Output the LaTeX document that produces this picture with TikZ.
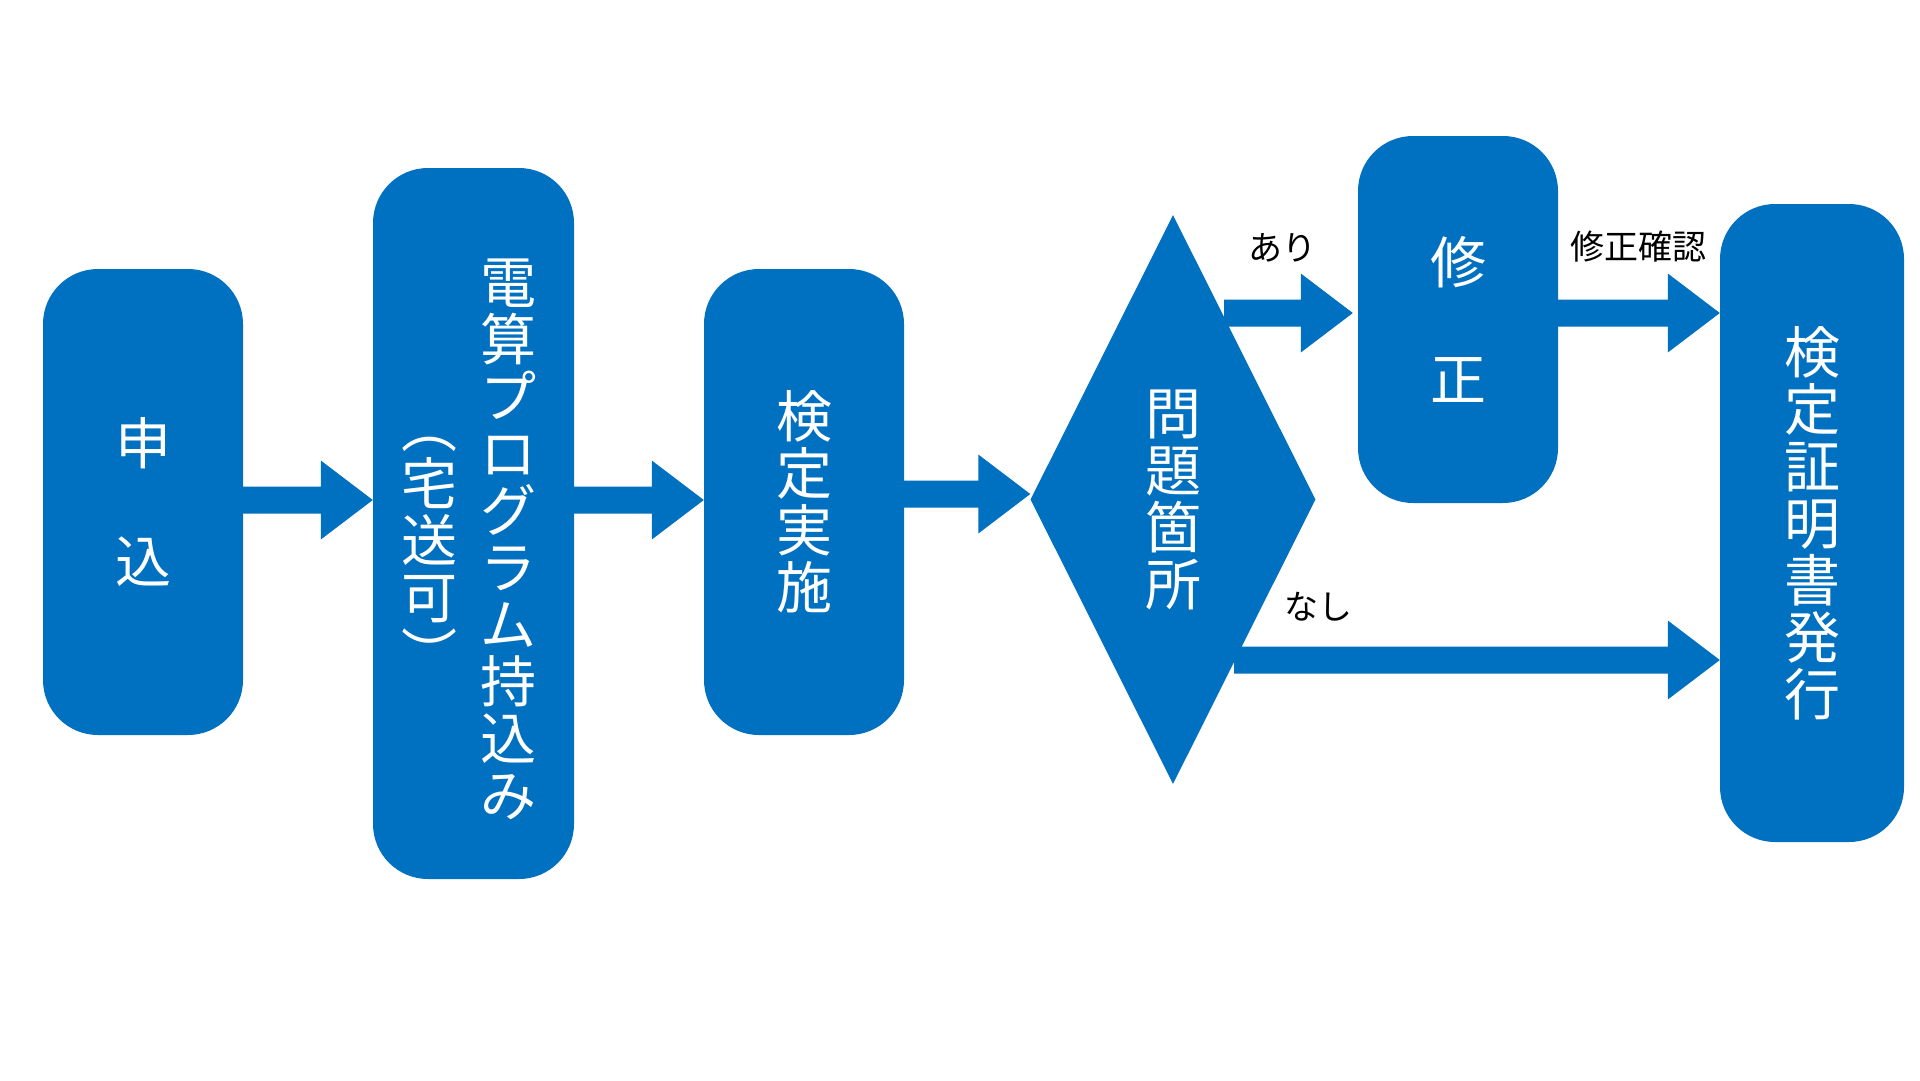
\documentclass[tikz,border=0pt]{standalone}
\usepackage{fontspec}
\newfontfamily\jp{Noto Sans CJK JP}
\usetikzlibrary{shapes.geometric,calc}
\definecolor{blue0}{RGB}{0,112,192}
\begin{document}
\begin{tikzpicture}[x=1pt,y=-1pt,
  box/.style={fill=blue0, rounded corners=55pt, inner sep=0pt, text=white, align=center},
  col/.style={font=\jp\fontsize{56}{57}\selectfont},
  pair/.style={font=\jp\fontsize{56}{118}\selectfont},
  wtext/.style={text=white, align=center, inner sep=0pt},
  lab/.style={font=\jp\fontsize{34}{40}\selectfont, text=black, inner sep=0pt},
  blockarrow/.style={fill=blue0, to path={let \p1=(\tikztostart), \p2=(\tikztotarget) in
    (\x1,\y1+13.5pt) -- (\x2-52pt,\y2+13.5pt) -- (\x2-52pt,\y2+39.5pt) -- (\x2,\y2)
    -- (\x2-52pt,\y2-39.5pt) -- (\x2-52pt,\y2-13.5pt) -- (\x1,\y1-13.5pt) -- cycle}}
]
\fill[white] (0,0) rectangle (1920,1080);
\useasboundingbox (0,0) rectangle (1920,1080);

% level coordinates
\coordinate (ya) at (0,500);
\coordinate (yb) at (0,494);
\coordinate (yc) at (0,313);
\coordinate (yd) at (0,660);
\coordinate (yesStart) at (1224,313);
\coordinate (noStart) at (1234,660);

% boxes
\node[box, pair, minimum width=200pt, minimum height=466pt] (b1) at (143,502) {申\\込};
\node[box, minimum width=201pt, minimum height=711pt] (b2) at (473.5,523.5) {};
\node[wtext, col] (t2a) at (508,539.5) {\vphantom{国}電\\算\\プ\\ロ\\グ\\ラ\\ム\\持\\込\\み\vphantom{国}};
\node[wtext, col] (t2b) at (429,541) {\vphantom{国}︵\\宅\\送\\可\\︶\vphantom{国}};
\node[box, col, minimum width=200pt, minimum height=466pt] (b3) at (804,502) {検\\定\\実\\施};
\node[shape=diamond, fill=blue0, text=white, align=center, inner sep=0pt, col,
      minimum width=285pt, minimum height=569pt] (d) at (1173,499.5) {問\\題\\箇\\所};
\node[box, pair, font=\jp\fontsize{56}{117}\selectfont, minimum width=200pt, minimum height=367pt] (b4) at (1458,319.5) {修\\正};
\node[box, col, minimum width=184pt, minimum height=638pt] (b5) at (1812,523) {検\\定\\証\\明\\書\\発\\行};

% arrows
\path[blockarrow] (b1.east |- ya) to (b2.west |- ya);
\path[blockarrow] (b2.east |- ya) to (b3.west |- ya);
\path[blockarrow] (b3.east |- yb) to (d.west |- yb);
\path[blockarrow] (yesStart) to ($(b4.west |- yc)+(-5,0)$);
\path[blockarrow] (b4.east |- yc) to (b5.west |- yc);
\path[blockarrow] (noStart) to (b5.west |- yd);

% labels
\node[lab] (l1) at (1282,248) {あり};
\node[lab] (l2) at (1638,247) {修正確認};
\node[lab] (l3) at (1318,607) {なし};
\end{tikzpicture}
\end{document}
